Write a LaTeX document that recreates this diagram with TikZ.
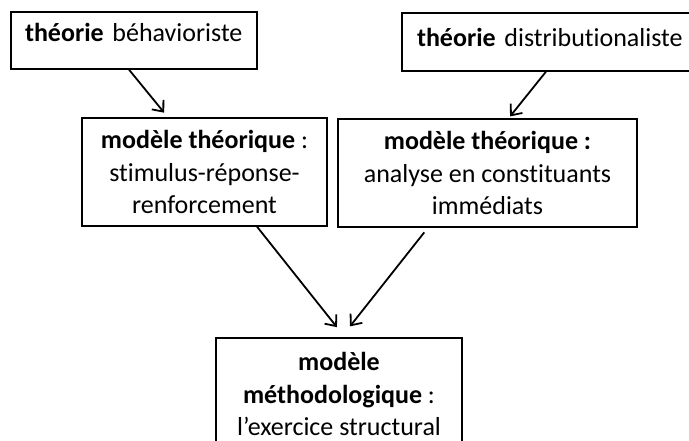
\documentclass[tikz,border=0pt]{standalone}
\usepackage{fontspec}
\setmainfont{Carlito}[Ligatures=NoCommon]
\usepackage{tikz}
\usetikzlibrary{arrows.meta}
\setlength{\parindent}{0pt}
\tikzstyle{box} = [draw, rectangle, line width=1.3pt, inner sep=0pt]
\tikzstyle{topbox} = [box, align=left, inner xsep=14pt, inner ysep=4pt]
\tikzstyle{midbox} = [box, align=center]
\tikzstyle{link} = [-{Straight Barb[length=9pt,width=15pt,line width=1.8pt]}, line width=1.8pt]

\begin{document}
\begin{tikzpicture}[x=1pt, y=-1pt, font=\fontsize{26pt}{32.5pt}\selectfont]
		\clip (0,0) rectangle (689,441);
		\node [topbox, text width=218pt, text height=26pt, text depth=23pt] (behav) at (134,40.5) {\textbf{théorie} béhavioriste};
		\node [topbox, inner xsep=15pt, text width=268pt, text height=30pt, text depth=20pt] (distrib) at (551,42) {\textbf{théorie} distributionaliste};
		\node [midbox, minimum width=245pt, minimum height=108pt] (srr) at (204.5,172) {\textbf{modèle théorique} :\\stimulus-réponse-\\renforcement};
		\node [midbox, minimum width=299pt, minimum height=108pt] (aci) at (487.5,173) {\textbf{modèle théorique :}\\analyse en constituants\\immédiats};
		\node [midbox, minimum width=246pt, minimum height=112pt] (exer) at (339,394) {\textbf{modèle}\\\textbf{méthodologique} :\\l’exercice structural};
		
		\draw [link, shorten >=6pt] ([xshift=-5pt]behav.south) -- ([xshift=-36.5pt]srr.north);
		\draw [link, shorten >=2.5pt] ([xshift=-5pt]distrib.south) -- ([xshift=21pt]aci.north);
		\draw [link, shorten >=13pt] ([xshift=52.5pt]srr.south) -- ([xshift=6pt]exer.north);
		\draw [link, shorten <=6pt, shorten >=14pt] ([xshift=-59.5pt]aci.south) -- ([xshift=2.3pt]exer.north);
	\end{tikzpicture}
\end{document}
